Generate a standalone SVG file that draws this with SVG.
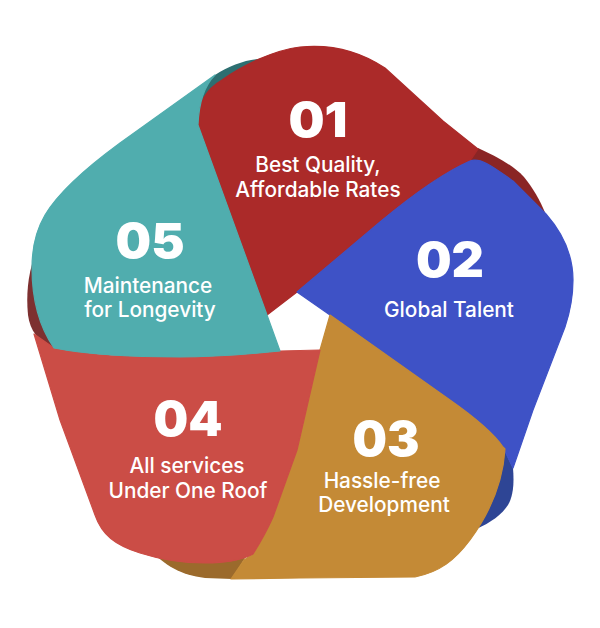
<svg xmlns="http://www.w3.org/2000/svg" width="600" height="628" viewBox="0 0 600 628">
<style>
.body{stroke-width:1.2;stroke-linejoin:round}
.num{font-family:Inter,"Liberation Sans",sans-serif;font-weight:900;font-size:48px;fill:#fff;text-anchor:middle}
.lbl{font-family:Inter,"Liberation Sans",sans-serif;font-weight:500;font-size:20.8px;fill:#fff;text-anchor:middle}
</style>
<rect width="600" height="628" fill="#fff"/>
<g id="folds">
<path d="M199,112 C200,95 207,82 215,75 C228,66 245,60 258,59 L272,57 L260,80 L210,125 Z" fill="#2d6f71"/>
<path d="M472,150 L478,148 C495,156 512,164 524,177 C533,188 540,200 546,215 L550,226 L500,200 L470,165 Z" fill="#8a2525"/>
<path d="M503,447 L513,468 C514,480 514,495 508,505 C500,517 488,524 470,532 L490,480 Z" fill="#2e4595"/>
<path d="M150,550 C165,565 180,575 205,578 L232,579 L245,558 L240,545 Z" fill="#9b6a2c"/>
<path d="M34,258 C28,275 26,295 28,315 C30,330 38,342 54,349 L60,340 L50,260 Z" fill="#7d3030"/>
</g>
<g id="node-01">
<path class="body" fill="#ab2a29" stroke="#ab2a29" d="M267,315 L297,292 L380,222 C410,197 445,172 470,161 L478,149 L443,121 L385,68 C358,50 330,44 300,47 C275,50 245,64 222,80 C205,90 197,105 198,125 Z"/>
<text class="num" x="318" y="137" textLength="59" lengthAdjust="spacingAndGlyphs">01</text>
<text class="lbl" x="318" y="172">Best Quality,</text>
<text class="lbl" x="318" y="197">Affordable Rates</text>
</g>
<g id="node-02">
<path class="body" fill="#3e52c6" stroke="#3e52c6" d="M297,292 L380,222 C410,197 445,172 470,161 C480,157 492,166 513,181 L546,214 C560,230 573,252 573,280 C573,300 569,315 565,327 L533,410 L513,468 L503,447 Q490,428 450,400 L330,315 Z"/>
<text class="num" x="450" y="277" textLength="68" lengthAdjust="spacingAndGlyphs">02</text>
<text class="lbl" x="449" y="317">Global Talent</text>
</g>
<g id="node-03">
<path class="body" fill="#c48a36" stroke="#c48a36" d="M330,315 L450,400 Q490,428 503,447 L505,449 C503,480 492,510 470,540 C455,560 440,572 415,577 L300,578 L231,579 L244,560 L253,554 Q265,535 273,517 L297,450 L320,350 Z"/>
<text class="num" x="386" y="456" textLength="67" lengthAdjust="spacingAndGlyphs">03</text>
<text class="lbl" x="382" y="488">Hassle-free</text>
<text class="lbl" x="384" y="512">Development</text>
</g>
<g id="node-04">
<path class="body" fill="#cb4d46" stroke="#cb4d46" d="M320,350 L280,351 C250,354 220,357 180,357 C130,357 90,355 54,348 L34,334 L60,420 L95,515 C102,535 115,545 140,553 C165,561 185,563 205,563 C225,563 240,561 253,554 Q265,535 273,517 L297,450 Z"/>
<text class="num" x="188" y="436" textLength="69" lengthAdjust="spacingAndGlyphs">04</text>
<text class="lbl" x="187" y="473">All services</text>
<text class="lbl" x="188" y="498">Under One Roof</text>
</g>
<g id="node-05">
<path class="body" fill="#50adae" stroke="#50adae" d="M280,351 L267,315 L198,125 C199,100 205,85 215,75 L120,143 C90,165 60,190 45,215 C35,232 32,250 32,268 C32,295 38,325 54,348 C90,355 130,357 180,357 C220,357 250,354 280,351 Z"/>
<text class="num" x="150" y="258" textLength="69" lengthAdjust="spacingAndGlyphs">05</text>
<text class="lbl" x="148" y="293">Maintenance</text>
<text class="lbl" x="150" y="317">for Longevity</text>
</g>
<g id="connectors"></g>
</svg>
